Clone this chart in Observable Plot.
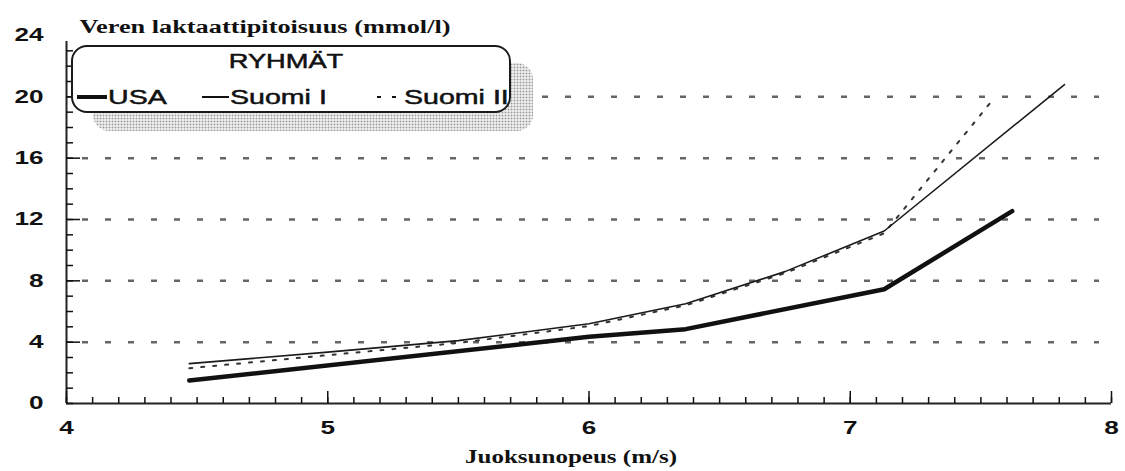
<!DOCTYPE html>
<html><head><meta charset="utf-8">
<script src="https://cdn.jsdelivr.net/npm/d3@7"></script>
<script src="https://cdn.jsdelivr.net/npm/@observablehq/plot@0.6"></script>
<style>
html,body{margin:0;padding:0;background:#fff;}
#wrap{position:relative;width:1125px;height:471px;overflow:hidden;font-family:"Liberation Sans",Arial,sans-serif;color:#111}
#chart{position:absolute;left:0;top:0}
#legend-shadow{position:absolute;left:93px;top:63px;width:440px;height:68px;border-radius:16px;background-color:#ececec;background-image:radial-gradient(circle,#9a9a9a 0.8px,transparent 1.1px);background-size:3px 3px;}
#legend{position:absolute;left:71px;top:45px;width:436px;height:64px;border:2px solid #1a1a1a;border-radius:16px;background:#fff;}
.lg{position:absolute;font-size:21px;line-height:20px;white-space:nowrap;transform-origin:0 50%;transform:scaleX(1.36);-webkit-text-stroke:0.5px #111}
.lc{text-align:center;transform-origin:50% 50%;font-size:20px}
.sw{position:absolute;background:#111}
</style></head>
<body>
<div id="wrap">
  <div id="chart"></div>
  <div id="legend-shadow"></div>
  <div id="legend"></div>
  <div class="lg lc" style="left:186px;top:51px;width:200px">RYHMÄT</div>
  <div class="sw" style="left:77px;top:95px;width:30px;height:4px"></div>
  <div class="lg" style="left:108px;top:87px">USA</div>
  <div class="sw" style="left:202px;top:96px;width:27px;height:1.5px"></div>
  <div class="lg" style="left:230px;top:87px">Suomi I</div>
  <div class="sw" style="left:377px;top:96px;width:4px;height:2px"></div>
  <div class="sw" style="left:392px;top:96px;width:4px;height:2px"></div>
  <div class="lg" style="left:404px;top:87px">Suomi II</div>
</div>
<script>
// Data
const speedUSA = [4.47, 6.0, 6.37, 7.13, 7.62];
const lactUSA  = [1.5, 4.35, 4.85, 7.45, 12.55];
const speedS1  = [4.47, 5.0, 5.5, 6.0, 6.37, 6.75, 7.13, 7.82];
const lactS1   = [2.6, 3.35, 4.1, 5.2, 6.5, 8.6, 11.25, 20.8];
const speedS2  = [4.47, 5.0, 5.5, 6.0, 6.37, 6.75, 7.13, 7.55];
const lactS2   = [2.3, 3.15, 3.95, 5.05, 6.4, 8.5, 11.1, 19.9];
const xTicks = [4, 5, 6, 7, 8];
const yTicks = [0, 4, 8, 12, 16, 20, 24];
const gridVals = [4, 8, 12, 16, 20];
const xMinor = d3.range(40, 81).map(d => d / 10);
const yMinor = d3.range(0, 24);
const xTitle = "Juoksunopeus (m/s)";
const yTitle = "Veren laktaattipitoisuus (mmol/l)";

const zip = (xs, ys) => xs.map((x, i) => ({x, y: ys[i]}));
const usa = zip(speedUSA, lactUSA), s1 = zip(speedS1, lactS1), s2 = zip(speedS2, lactS2);

const chart = Plot.plot({
  width: 1125, height: 471,
  marginLeft: 66, marginRight: 14, marginTop: 35, marginBottom: 68,
  x: {domain: [4, 8]},
  y: {domain: [0, 24]},
  style: {fontFamily: "'Liberation Sans', Arial, sans-serif", fontSize: "18px", color: "#111", background: "#fff"},
  marks: [
    Plot.ruleY(gridVals, {stroke: "#666", strokeWidth: 2.5, strokeDasharray: "6 17", insetLeft: 16, insetRight: 12}),
    Plot.ruleY([0], {stroke: "#222", strokeWidth: 2}),
    Plot.ruleX([4], {stroke: "#222", strokeWidth: 2, insetTop: 6}),
    Plot.axisY({ticks: yMinor, tickSize: 7, dx: 7, fill: "none", label: null, strokeWidth: 1.5}),
    Plot.axisY({ticks: gridVals, tickSize: 14, dx: 14, fill: "none", label: null, strokeWidth: 1.5}),
    Plot.axisX({ticks: xMinor, tickSize: 6, dy: -6, fill: "none", label: null, strokeWidth: 1.5}),
    Plot.axisX({ticks: xTicks, tickSize: 12, dy: -12, fill: "none", label: null, strokeWidth: 1.5}),
    Plot.axisY({ticks: yTicks, tickSize: 0, tickPadding: 23, label: null, fontSize: 18, fontWeight: "bold", tickFormat: d => String(d)}),
    Plot.axisX({ticks: xTicks, tickSize: 0, tickPadding: 18, label: null, fontSize: 18, fontWeight: "bold", tickFormat: d => String(d)}),
    Plot.line(s2, {x: "x", y: "y", stroke: "#333", strokeWidth: 2, strokeDasharray: "3 9"}),
    Plot.line(s1, {x: "x", y: "y", stroke: "#1a1a1a", strokeWidth: 1.6}),
    Plot.line(usa, {x: "x", y: "y", stroke: "#111", strokeWidth: 4.5}),
    Plot.text([yTitle], {frameAnchor: "top-left", dx: 13, dy: -8, textAnchor: "start", lineAnchor: "middle", fontFamily: "'Liberation Serif', 'Times New Roman', serif", fontWeight: "bold", fontSize: 18}),
    Plot.text([xTitle], {frameAnchor: "bottom", dx: -18, dy: 54, textAnchor: "middle", lineAnchor: "middle", fontFamily: "'Liberation Serif', 'Times New Roman', serif", fontWeight: "bold", fontSize: 18})
  ]
});
document.getElementById("chart").appendChild(chart);

// The reference is horizontally stretched: widen glyphs accordingly
d3.select(chart).selectAll("text").each(function() {
  const t = this.textContent;
  let target;
  if (t === yTitle) target = 371;
  else if (t === xTitle) target = 212;
  else target = this.getComputedTextLength() * 1.45;
  if (target > 0) {
    this.setAttribute("textLength", target);
    this.setAttribute("lengthAdjust", "spacingAndGlyphs");
  }
});
</script>
</body></html>
